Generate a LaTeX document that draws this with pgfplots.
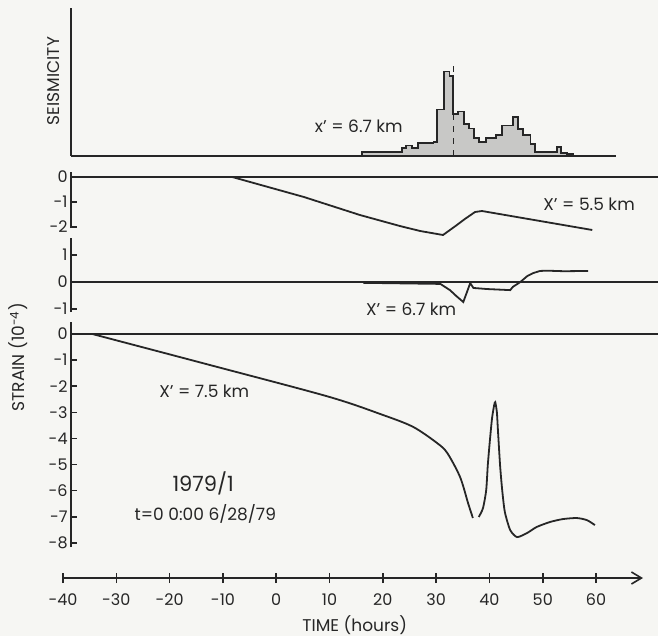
\documentclass[border=0pt]{standalone}
\usepackage{pgfplots}
\pgfplotsset{compat=1.18}
\usepackage{fontspec}
\setmainfont{Poppins}
\usetikzlibrary{arrows.meta}
\definecolor{ink}{RGB}{38,38,38}
\definecolor{paper}{RGB}{246,246,243}
\definecolor{stip}{RGB}{200,200,198}
\newcommand{\lab}{\fontsize{8.5}{9}\selectfont}
\newcommand{\tlab}{\fontsize{8}{9}\selectfont}
\pgfplotsset{
  panel/.style={scale only axis, anchor=north west, clip=false,
    xmin=-38.5, xmax=71.63, width=293.5pt,
    axis x line=none, axis y line*=left,
    y axis line style={ink, line width=0.8pt, -},
    major tick style={ink, line width=0.8pt},
    tick align=inside, major tick length=3pt,
    yticklabel style={font=\tlab, text=ink, inner sep=1.5pt},
  },
}
\begin{document}
\begin{tikzpicture}
\useasboundingbox (0,0) rectangle (329pt,-318pt);
\fill[paper] (0,0) rectangle (329pt,-318pt);

% Seismicity histogram
\begin{axis}[scale only axis, anchor=north west, at={(35.5pt,-4pt)},
  width=272.5pt, height=74pt, xmin=-38.5, xmax=63.75, ymin=0, ymax=35,
  axis lines*=left, axis line style={ink, line width=0.8pt, -},
  xtick=\empty, ytick=\empty, clip=false,
  ylabel={SEISMICITY},
  ylabel style={at={(axis description cs:-0.032,0.507)}, anchor=center, font=\lab, text=ink}]
\addplot[const plot, fill=stip, draw=ink, line width=0.9pt] coordinates {
 (16.1,1) (23.6,1.8) (24.4,2.5) (25.5,1.8) (26.6,3) (29.5,3.3) (30.2,11)
 (31.5,20) (32.5,19) (33.2,10) (34.1,10.5) (35.3,7.5) (36.2,6.5) (37.1,4.2)
 (38.1,3.4) (39.4,4.2) (41.3,5) (42.4,7.2) (44.5,9.2) (45.4,6.3) (46.3,5)
 (47.7,2.8) (48.6,1) (52.7,2.2) (53.5,0.7) (54.6,0.4) (55.7,0.4)} \closedcycle;
\addplot[ink, dashed, line width=0.6pt] coordinates {(33.2,0) (33.2,22.7)};
\node[font=\lab, text=ink] at (axis cs:15.5,7.1) {x’ = 6.7 km};
\end{axis}

% X' = 5.5 km
\begin{axis}[panel, at={(35.5pt,-86pt)}, height=28pt, ymin=-2.04, ymax=0.2,
  ytick={-2,-1,0}, yticklabels={-2,-1,0}]
\addplot[ink, line width=0.6pt] coordinates {(-38.5,0) (71.63,0)};
\addplot[ink, line width=0.9pt] coordinates {
 (-8.25,0) (5.2,-0.8) (15.7,-1.52) (23.2,-1.96) (27.0,-2.16) (31.3,-2.32)
 (32.6,-2.12) (33.9,-1.92) (35.4,-1.68) (37.3,-1.40) (38.6,-1.36) (59.3,-2.12)};
\node[font=\lab, text=ink] at (axis cs:58.7,-1.08) {X’ = 5.5 km};
\end{axis}

% X' = 6.7 km
\begin{axis}[panel, at={(35.5pt,-119pt)}, height=37pt, ymin=-1.11, ymax=1.63,
  ytick={-1,0,1}, yticklabels={-1,0,1}]
\addplot[ink, line width=0.6pt] coordinates {(-38.5,0) (71.63,0)};
\addplot[ink, line width=0.9pt] coordinates {
 (16.3,-0.03) (30.8,-0.07) (32.6,-0.30) (33.8,-0.52) (35.1,-0.74) (35.7,-0.42)
 (36.4,-0.04) (37.0,-0.22) (39.6,-0.26) (43.9,-0.30) (44.4,-0.18) (45.8,0.0)
 (47.1,0.22) (48.2,0.33) (49.5,0.41) (50.8,0.42) (54.0,0.40) (58.5,0.41)};
\node[font=\lab, text=ink] at (axis cs:25.3,-1.0) {X’ = 6.7 km};
\end{axis}

% X' = 7.5 km
\begin{axis}[panel, at={(35.5pt,-161pt)}, height=112.5pt, ymin=-8.16, ymax=0.46,
  ytick={-8,-7,-6,-5,-4,-3,-2,-1,0}, yticklabels={-8,-7,-6,-5,-4,-3,-2,-1,0},
  ylabel={STRAIN (10\textsuperscript{-4})},
  ylabel style={at={(axis description cs:-0.0903,0.844)}, anchor=center, font=\lab, text=ink}]
\addplot[ink, line width=0.6pt] coordinates {(-38.5,0) (71.63,0)};
\addplot[ink, line width=0.9pt, smooth, tension=0.5] coordinates {
 (-34.5,0) (-12.4,-1.19) (9.8,-2.40) (20.0,-3.10) (25.7,-3.56) (30.2,-4.18)
 (32.1,-4.56) (34.5,-5.48) (36.0,-6.48) (36.9,-7.05)};
\addplot[ink, line width=0.9pt, smooth, tension=0.4] coordinates {
 (38.0,-7.01) (38.8,-6.67) (39.4,-5.98) (39.7,-5.02) (40.1,-4.06) (40.5,-3.22)
 (40.9,-2.72) (41.1,-2.61) (41.4,-2.99) (41.6,-3.68) (42.0,-5.02) (42.4,-5.98)
 (42.9,-6.82) (43.9,-7.51) (45.2,-7.78) (47.1,-7.62) (48.9,-7.39) (51.4,-7.20)
 (53.8,-7.09) (56.4,-7.05) (58.3,-7.13) (59.8,-7.32)};
\node[font=\lab, text=ink] at (axis cs:-13.5,-2.18) {X’ = 7.5 km};
\node[font=\fontsize{10.5}{12}\selectfont, text=ink] at (axis cs:-13.7,-5.71) {1979/1};
\node[font=\lab, text=ink] at (axis cs:-13.3,-6.90) {t=0 0:00 6/28/79};
\end{axis}

% Time axis
\begin{axis}[scale only axis, anchor=south west, at={(31.5pt,-289pt)},
  width=290pt, height=10pt, xmin=-40, xmax=68.8, ymin=0, ymax=1,
  axis x line=bottom, axis y line=none,
  x axis line style={ink, line width=0.8pt, -{Straight Barb[length=5pt,width=6pt]}},
  major tick style={ink, line width=0.8pt},
  xtick={-40,-30,-20,-10,0,10,20,30,40,50,60},
  xticklabels={-40,-30,-20,-10,0,10,20,30,40,50,60},
  tick align=center, major tick length=5pt,
  xticklabel style={font=\tlab, text=ink, yshift=-2pt},
  xlabel={TIME (hours)},
  xlabel style={at={(axis description cs:0.503,-2.35)}, anchor=center, font=\lab, text=ink}]
\addplot[draw=none] coordinates {(-40,0) (60,0)};
\end{axis}
\end{tikzpicture}
\end{document}
